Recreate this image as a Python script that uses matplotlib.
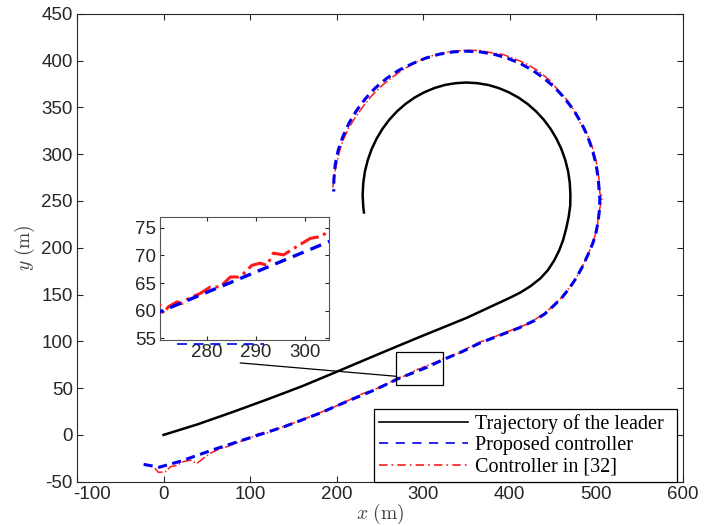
import matplotlib
matplotlib.use('Agg')
import matplotlib.pyplot as plt
import matplotlib.patches as patches
from matplotlib.transforms import ScaledTranslation

plt.rcParams['mathtext.fontset'] = 'cm'
plt.rcParams['axes.unicode_minus'] = False

# leader trajectory (black)
leader_x = [0, 40, 80, 120, 160, 204, 250, 296, 350, 400, 412, 424, 435, 444, 451, 457, 461.5,
            465, 468, 469.8, 470, 469.3, 467.4, 464.1, 459.6, 453.9, 447.1, 439.2, 430.3, 420.5,
            410, 398.8, 387.1, 375, 362.5, 350, 337.5, 325, 312.9, 301.2, 290, 279.5, 269.7,
            260.8, 252.9, 246.1, 240.4, 235.9, 232.6, 230.7, 230, 230.7, 231.5]
leader_y = [0, 11.5, 24.5, 38, 52, 69, 87, 104.7, 125, 146.5, 152, 159, 167, 176, 186, 197, 208,
            220, 233, 245, 256.5, 269, 281.4, 293.6, 305.3, 316.5, 327, 336.8, 345.7, 353.6,
            360.4, 366.1, 370.6, 373.9, 375.8, 376.5, 375.8, 373.9, 370.6, 366.1, 360.4, 353.6,
            345.7, 336.8, 327, 316.5, 305.3, 293.6, 281.4, 269, 256.5, 244, 237.7]

# proposed controller (blue dashed)
prop_x = [-23, -5, 20, 60, 100, 140, 180, 215, 245, 270.4, 305, 323, 345, 365, 390, 411, 427,
          440, 450, 460, 469, 477, 484, 490, 496, 499.5, 502, 503.5, 504, 502.2, 499.7, 495.5,
          489.8, 482.5, 473.8, 463.7, 452.4, 439.9, 426.5, 412.2, 397.3, 381.8, 366, 350, 334,
          318.2, 302.7, 287.8, 271.5, 257.6, 244.6, 233.3, 223.2, 214.5, 207.4, 201.8, 198.3,
          196.8, 196.6]
prop_y = [-31.5, -34.5, -28, -15, -3, 9, 23, 37, 48.5, 59.8, 72.5, 80.4, 89, 98, 107, 114.5,
          121.5, 129, 137.5, 146.5, 157, 168, 180, 192, 205, 216, 228, 240, 252, 273, 288.8,
          304.3, 319.2, 333.5, 346.9, 359.4, 370.7, 380.8, 389.5, 396.8, 402.5, 406.7, 409.2,
          410, 409.2, 406.7, 402.5, 396.8, 389.5, 380.8, 370.7, 359.4, 346.9, 333.5, 319.2,
          304.3, 288.8, 273, 260]

# controller in [32] (red dash-dot)
ref_x = [-10, -6, 2, 8, 15, 23, 31, 38.5, 46, 54, 62, 75, 90, 100, 110, 120, 140, 160, 180, 200,
         215, 230, 245, 260,
         270.4, 271.1, 272.1, 273.9, 274.9, 276.2, 278.6, 280.7, 282.7, 284.8, 286.5, 287.5, 289.2,
         290.9, 292.3, 293.6, 295.7, 298.4, 301.2, 303.2, 304.9,
         315, 323, 340, 355, 365, 380, 395, 411, 419, 427, 440, 450, 460, 469, 477, 484, 490, 496,
         499, 501, 503, 506, 507, 504, 503, 500.5, 496.5, 491, 487, 481, 474, 465, 457, 446, 431,
         418, 405, 392, 380, 367, 352, 343, 331, 318, 304, 290, 276, 264, 252, 242, 233, 222,
         214, 207, 203, 199.5, 197, 196, 195.5]
ref_y = [-35.5, -40, -39.5, -34, -32.5, -28.5, -27, -30.5, -25, -19.7, -16, -12, -6.5, -3.5, 1.5, 2,
         9.5, 16, 23.5, 31, 37.5, 44, 49, 55,
         61.0, 59.5, 60.7, 61.6, 61.3, 62.2, 63.1, 64.3, 64.3, 66.1, 66.1, 66.7, 68.2, 68.6, 68.2,
         70.4, 70.1, 71.6, 73.1, 73.4, 74.3,
         78, 81, 87, 94.5, 99, 104, 109.5, 115, 118, 122, 130, 138, 147, 157.5, 168, 180.5, 192,
         205.5, 215, 223, 238, 251, 254, 258, 274, 289, 304, 318, 326, 334, 347, 359, 367, 379,
         390, 397, 402, 406.5, 408, 410.5, 411, 410.5, 409.5, 407, 403.5, 397.5, 390, 382, 373,
         364, 354, 340, 328, 314, 302, 288, 277, 268, 263]

# zoom window, connector and the stray dash under the inset
zoom_box = [268.4, 53.6, 54.6, 34.6]
conn_x = [88.8, 269.2]
conn_y = [76.9, 62.6]
stray_x = [273.9, 291.6]
stray_y = [53.9, 53.9]

grey = '#262626'
tick_font = 'Liberation Sans'

fig = plt.figure(figsize=(7.12, 5.26), dpi=100)
ax = fig.add_axes([0.1081, 0.0842, 0.8511, 0.8897])

ax.plot(leader_x, leader_y, color='k', lw=1.8, solid_joinstyle='round',
        label='Trajectory of the leader', zorder=3)
ax.plot(prop_x, prop_y, color='#0000ee', ls='--', lw=2.2, dashes=(3, 1.8),
        label='Proposed controller', zorder=4)
ax.plot(ref_x, ref_y, color='#ff1a1a', ls='-.', lw=1.1,
        label='Controller in [32]', zorder=3.5)

ax.add_patch(patches.Rectangle((zoom_box[0], zoom_box[1]), zoom_box[2], zoom_box[3],
                               fill=False, ec='k', lw=0.9, zorder=5))
ax.plot(conn_x, conn_y, color='k', lw=0.9, zorder=5)

ax.set_xlim(-100, 600)
ax.set_ylim(-50, 450)
ax.set_xticks(range(-100, 601, 100))
ax.set_yticks(range(-50, 451, 50))
ax.tick_params(direction='in', length=4.5, width=0.8, top=True, right=True, colors=grey,
               labelsize=13.5, pad=3)
for lab in ax.get_xticklabels() + ax.get_yticklabels():
    lab.set_fontfamily(tick_font)
# the -100 label sits a bit to the right in the original, clear of -50
first = ax.get_xticklabels()[0]
first.set_transform(first.get_transform() + ScaledTranslation(0.15, 0, fig.dpi_scale_trans))
for sp in ax.spines.values():
    sp.set_color(grey)
    sp.set_linewidth(0.8)

ax.set_xlabel(r'$x\ (\mathrm{m})$', fontsize=14, color='#404040', labelpad=-1)
ax.set_ylabel(r'$y\ (\mathrm{m})$', fontsize=14, color='#404040', labelpad=3)

leg = ax.legend(loc='lower left', bbox_to_anchor=(0.49, 0.0, 0.5, 0.175), mode='expand',
                borderaxespad=0, fancybox=False, framealpha=1, edgecolor='k',
                prop={'family': 'Liberation Serif', 'size': 14.5},
                handlelength=4.4, handletextpad=0.35, labelspacing=0.12, borderpad=0.25)
leg.get_frame().set_linewidth(0.9)
leg_lines = leg.get_lines()
for ln in leg_lines:
    ln.set_linewidth(1.2)
leg_lines[1].set_dashes((5.5, 4.5))
leg_lines[2].set_dashes((5, 2.5, 1, 2.5))
leg.set_zorder(6)

# inset
axi = fig.add_axes([0.2247, 0.3536, 0.2374, 0.2344])
axi.plot(leader_x, leader_y, color='k', lw=1.8)
axi.plot(prop_x, prop_y, color='#0000ee', ls='--', lw=2.4, dashes=(3.5, 2.2), zorder=4)
axi.plot(ref_x, ref_y, color='#ff1a1a', ls='-.', lw=2.2, zorder=3.5)
axi.plot(stray_x, stray_y, color='#0000ee', ls='--', lw=1.2, dashes=(6, 4), clip_on=False)
axi.set_xlim(270.4, 305)
axi.set_ylim(54.7, 77)
axi.set_xticks([280, 290, 300])
axi.set_yticks([55, 60, 65, 70, 75])
axi.tick_params(direction='in', length=3, width=0.8, top=True, right=True, colors=grey,
                labelsize=13.5, pad=3)
for lab in axi.get_xticklabels() + axi.get_yticklabels():
    lab.set_fontfamily(tick_font)
for sp in axi.spines.values():
    sp.set_color('#555555')
    sp.set_linewidth(0.8)

fig.savefig('out.png', dpi=100)
